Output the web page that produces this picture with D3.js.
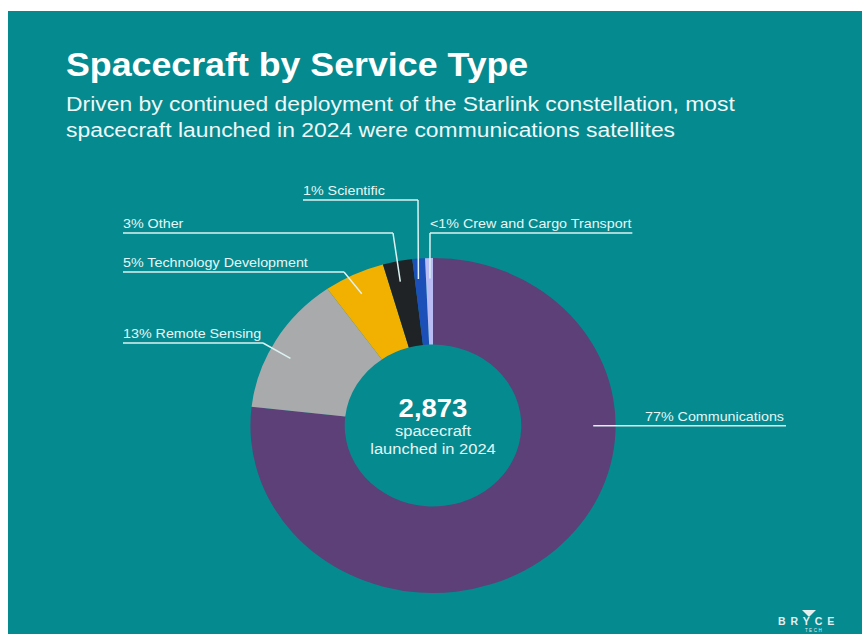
<!DOCTYPE html>
<html><head><meta charset="utf-8">
<script src="https://cdn.jsdelivr.net/npm/d3@7"></script>
<style>html,body{margin:0;padding:0;background:#fff;} svg{display:block;}</style>
</head><body>
<svg id="chart" width="862" height="634"></svg>
<script>
// ---- data ----
const categories = ["Communications","Remote Sensing","Technology Development","Other","Scientific","Crew and Cargo Transport"];
const spacecraftCounts = [2206, 385, 155, 75, 32, 20];
const shareLabels = ["77%","13%","5%","3%","1%","<1%"];
const totalLaunched = 2873;
const sliceColors = ["#5c4077","#a9aaab","#f2b100","#1f2326","#1d4fb8","#b9bcf5"];

// ---- layout ----
const W = 862, H = 634, SX = 1.1;
const CX = 433, CY = 425.5, XS = 1.09;
const FONT = "'Liberation Sans', Arial, Helvetica, sans-serif";
const svg = d3.select("#chart");

svg.append("rect").attr("x", 8).attr("y", 11).attr("width", W - 8).attr("height", H - 11).attr("fill", "#048a8f");

function stext(x, y, str, size, weight, anchor, fill) {
  const g = svg.append("g").attr("transform", `translate(${x},${y}) scale(${SX},1)`);
  return g.append("text").text(str)
    .attr("font-family", FONT).attr("font-size", size)
    .attr("font-weight", weight || "normal")
    .attr("text-anchor", anchor || "start")
    .attr("fill", fill || "#ffffff");
}

// title + subtitle
stext(66, 76, "Spacecraft by Service Type", 32.5, "bold");
stext(66, 111, "Driven by continued deployment of the Starlink constellation, most", 20.8, "normal", "start", "#eef8f8");
stext(66, 137, "spacecraft launched in 2024 were communications satellites", 20.8, "normal", "start", "#eef8f8");

// donut
const pie = d3.pie().sort(null).value(d => d);
const arcs = pie(spacecraftCounts);
const arc = d3.arc().innerRadius(81).outerRadius(167.5);
const donut = svg.append("g").attr("transform", `translate(${CX},${CY}) scale(${XS},1)`);
donut.selectAll("path").data(arcs).join("path")
  .attr("d", arc)
  .attr("fill", (d, i) => sliceColors[i]);

// centre text
const fmt = d3.format(",");
stext(CX, 416.5, fmt(totalLaunched), 25, "bold", "middle", "#ffffff");
stext(CX, 436, "spacecraft", 15, "normal", "middle", "#e6f6f6");
stext(CX, 454, "launched in 2024", 15, "normal", "middle", "#e6f6f6");

// labels with leader lines
const labelLayout = [
  { frac: 0.326, lineY: null, elbowX: null, textRight: 785 },
  { frac: 0.43, lineY: 343, elbowX: 263, textX: 123 },
  { frac: 0.46, lineY: 272, elbowX: 344, textX: 123 },
  { frac: 0.44, lineY: 233, elbowX: 393, textX: 123 },
  { frac: 0.32, lineY: 200, elbowX: 418, textX: 303 },
  { frac: 0.56, lineY: 233, elbowX: 430, textX: 430 }
];
const LR = 147;
const lineColor = "#dcf2f2";
const lines = svg.append("g").attr("fill", "none").attr("stroke", lineColor).attr("stroke-width", 1.5);

arcs.forEach((a, i) => {
  const L = labelLayout[i];
  const ang = a.startAngle + L.frac * (a.endAngle - a.startAngle);
  const ex = CX + XS * LR * Math.sin(ang);
  const ey = CY - LR * Math.cos(ang);
  const lineY = L.lineY == null ? ey : L.lineY;
  const elbowX = L.elbowX == null ? ex : L.elbowX;
  const str = shareLabels[i] + " " + categories[i];
  let t;
  if (L.textRight != null) {
    t = stext(L.textRight - 1, lineY - 5, str, 13, "normal", "end", "#e6f6f6");
  } else {
    t = stext(L.textX, lineY - 5, str, 13, "normal", "start", "#e6f6f6");
  }
  const w = t.node().getComputedTextLength() * SX;
  const tx0 = L.textRight != null ? L.textRight - w : L.textX;
  const tx1 = tx0 + w + 1;
  const minX = Math.min(tx0, elbowX), maxX = Math.max(tx1, elbowX);
  lines.append("path").attr("d", `M${ex},${ey}L${elbowX},${lineY}M${minX},${lineY}L${maxX},${lineY}`);
});

// logo
const logo = svg.append("g").attr("fill", "#e6eeef");
logo.append("path").attr("d", "M802,610 L816,610 L809,617 Z");
logo.append("text").text("BRYCE").attr("x", 778).attr("y", 625)
  .attr("font-family", FONT).attr("font-size", 10.5).attr("font-weight", "bold")
  .attr("letter-spacing", 5);
logo.append("text").text("TECH").attr("x", 814).attr("y", 632)
  .attr("font-family", FONT).attr("font-size", 4.5).attr("text-anchor", "middle")
  .attr("letter-spacing", 1.5);
</script>
</body></html>
